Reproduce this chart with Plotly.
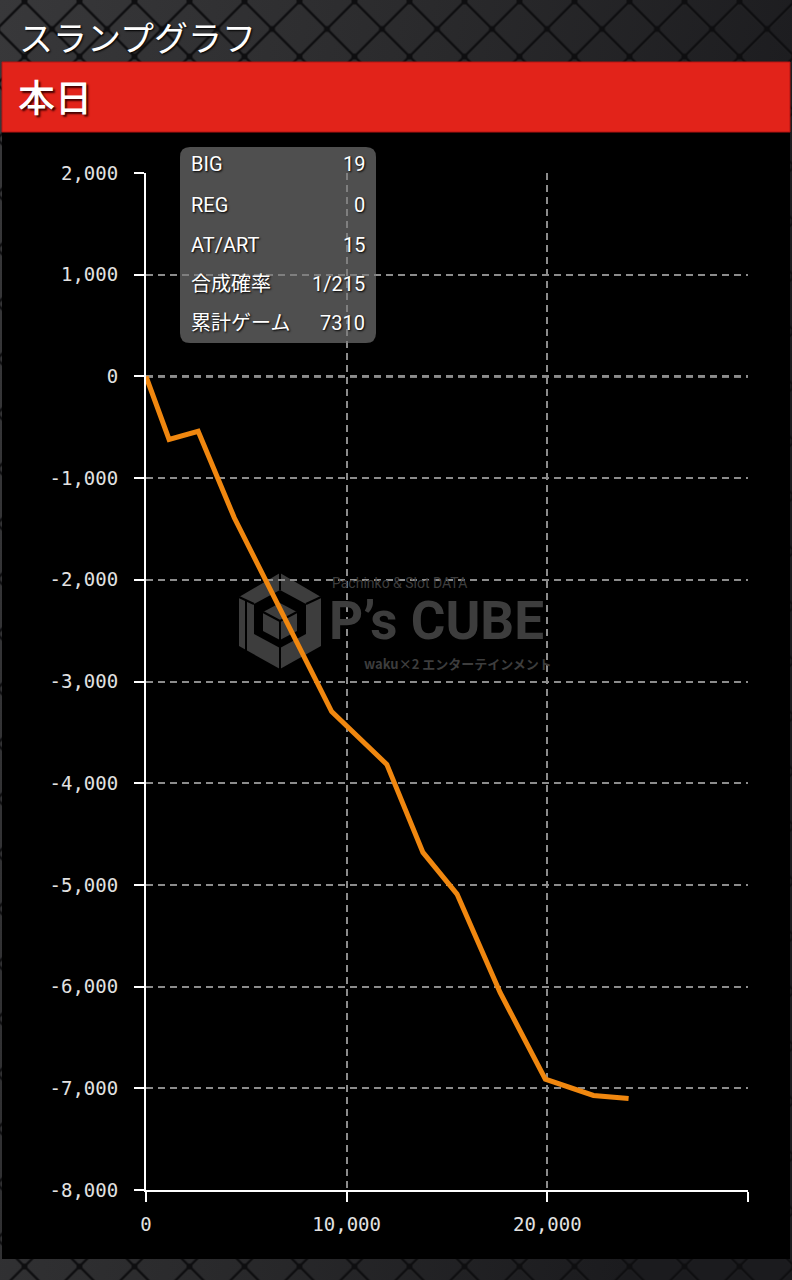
import base64
import plotly.graph_objects as go

# ---------------- data ----------------
games = [0, 1150, 2600, 4400, 9250, 12000, 13800, 15500, 17650, 19900, 22300, 24050]
diff = [0, -620, -540, -1390, -3295, -3815, -4680, -5090, -6060, -6910, -7070, -7100]

x_tickvals = [0, 10000, 20000, 30000]
x_ticktext = ["0", "10,000", "20,000", ""]
y_tickvals = [2000, 1000, 0, -1000, -2000, -3000, -4000, -5000, -6000, -7000, -8000]
y_ticktext = ["2,000", "1,000", "0", "-1,000", "-2,000", "-3,000", "-4,000",
              "-5,000", "-6,000", "-7,000", "-8,000"]

info_labels = ["BIG", "REG", "AT/ART", "合成確率", "累計ゲーム"]
info_values = ["19", "0", "15", "1/215", "7310"]

title_text = "スランプグラフ"
tab_text = "本日"

# ---------------- layout helpers (pixel -> paper) ----------------
W, H = 792, 1280
L, R, T, B = 146, 748, 173, 1190
PW, PH = R - L, B - T


def px(x):
    return (x - L) / PW


def py(y):
    return (B - y) / PH


def poly(points):
    return "M" + "L".join(f"{px(a):.5f},{py(b):.5f}" for a, b in points) + "Z"


def rounded_rect(x0, y0, x1, y1, r):
    return (f"M{px(x0 + r)},{py(y0)} L{px(x1 - r)},{py(y0)} "
            f"Q{px(x1)},{py(y0)} {px(x1)},{py(y0 + r)} "
            f"L{px(x1)},{py(y1 - r)} Q{px(x1)},{py(y1)} {px(x1 - r)},{py(y1)} "
            f"L{px(x0 + r)},{py(y1)} Q{px(x0)},{py(y1)} {px(x0)},{py(y1 - r)} "
            f"L{px(x0)},{py(y0 + r)} Q{px(x0)},{py(y0)} {px(x0 + r)},{py(y0)} Z")


# ---------------- background texture (svg) ----------------
svg = f'''<svg xmlns="http://www.w3.org/2000/svg" width="{W}" height="{H}">
<defs>
<linearGradient id="g" x1="0" y1="0" x2="1" y2="0.3">
<stop offset="0" stop-color="#38383a"/><stop offset="0.5" stop-color="#2a2a2c"/><stop offset="1" stop-color="#1b1b1e"/>
</linearGradient>
<pattern id="p" width="55" height="55" patternUnits="userSpaceOnUse" x="24.5" y="1.5">
<path d="M0 1.5L55 56.5M55 1.5L0 56.5" stroke="#5a5a5c" stroke-width="1" opacity="0.35"/>
<path d="M0 0L55 55M55 0L0 55" stroke="#0e0e10" stroke-width="2.5"/>
<circle cx="27.5" cy="27.5" r="3" fill="#0e0e10"/>
<circle cx="0" cy="0" r="3" fill="#0e0e10"/><circle cx="55" cy="0" r="3" fill="#0e0e10"/>
<circle cx="0" cy="55" r="3" fill="#0e0e10"/><circle cx="55" cy="55" r="3" fill="#0e0e10"/>
</pattern></defs>
<rect width="{W}" height="{H}" fill="url(#g)"/>
<rect width="{W}" height="{H}" fill="url(#p)"/>
</svg>'''
bg_src = "data:image/svg+xml;base64," + base64.b64encode(svg.encode()).decode()

# ---------------- figure ----------------
fig = go.Figure()
fig.add_trace(go.Scatter(
    x=games, y=diff, mode="lines",
    line=dict(color="#F0870F", width=5),
    hoverinfo="skip", showlegend=False,
))

tick_font = dict(family="DejaVu Sans Mono, monospace", size=19, color="#e2e2e2")
grid_kw = dict(showgrid=True, gridcolor="#8c8c8c", gridwidth=1.5, griddash="7px,5px")

fig.update_xaxes(
    range=[0, 30000], tickmode="array", tickvals=x_tickvals, ticktext=x_ticktext,
    showline=True, linecolor="#ffffff", linewidth=2, mirror=False,
    ticks="outside", ticklen=10, tickwidth=2, tickcolor="#ffffff",
    tickfont=tick_font, zeroline=False, fixedrange=True, ticklabelstandoff=6, **grid_kw,
)
fig.update_yaxes(
    range=[-8000, 2000], tickmode="array", tickvals=y_tickvals, ticktext=y_ticktext,
    showline=True, linecolor="#ffffff", linewidth=2, mirror=False,
    ticks="outside", ticklen=10, tickwidth=2, tickcolor="#ffffff",
    tickfont=tick_font, zeroline=False, fixedrange=True, ticklabelstandoff=12, **grid_kw,
)

shapes = []
# black panel
shapes.append(dict(type="rect", xref="paper", yref="paper", layer="below",
                   x0=px(2), x1=px(790), y0=py(132), y1=py(1259),
                   fillcolor="#000000", line=dict(width=0)))
# red tab bar
shapes.append(dict(type="rect", xref="paper", yref="paper", layer="below",
                   x0=px(2), x1=px(790), y0=py(62), y1=py(132),
                   fillcolor="#E2231A", line=dict(color="#b51512", width=1)))
# zero reference line
shapes.append(dict(type="line", xref="paper", yref="y", layer="below",
                   x0=0, x1=1, y0=0, y1=0,
                   line=dict(color="#ffffff", width=2, dash="7px,5px")))

# watermark logo (hexagonal cube)
wm = "#3d3d3d"
shapes.append(dict(type="path", xref="paper", yref="paper", layer="below",
                   path=poly([(280, 573), (321, 597), (321, 646), (280, 669), (239, 646), (239, 597)]),
                   fillcolor=wm, line=dict(width=0)))
shapes.append(dict(type="path", xref="paper", yref="paper", layer="below",
                   path=poly([(280, 590), (306, 604), (306, 634), (280, 648), (254, 634), (254, 604)]),
                   fillcolor="#000000", line=dict(width=0)))
shapes.append(dict(type="path", xref="paper", yref="paper", layer="below",
                   path=poly([(280, 603), (297, 612), (297, 631), (280, 640), (263, 631), (263, 612)]),
                   fillcolor=wm, line=dict(width=0)))
for seg in [[(280, 573), (280, 590)], [(239, 597), (254, 604)], [(321, 597), (306, 604)],
            [(280, 621), (280, 669)], [(263, 612), (280, 621)], [(297, 612), (280, 621)],
            [(246, 600), (246, 668)]]:
    shapes.append(dict(type="line", xref="paper", yref="paper", layer="below",
                       x0=px(seg[0][0]), y0=py(seg[0][1]), x1=px(seg[1][0]), y1=py(seg[1][1]),
                       line=dict(color="#000000", width=2)))

# info box
shapes.append(dict(type="path", xref="paper", yref="paper", layer="above",
                   path=rounded_rect(180, 147, 376, 343, 10),
                   fillcolor="rgba(120,120,120,0.66)", line=dict(width=0)))

annotations = []
shadow = "1px 1px 2px #000000"
annotations.append(dict(text=title_text, xref="paper", yref="paper", x=px(17), y=py(36),
                        xanchor="left", yanchor="middle", showarrow=False,
                        font=dict(family="Noto Sans CJK JP", size=34, color="#ffffff", shadow=shadow)))
annotations.append(dict(text=tab_text, xref="paper", yref="paper", x=px(16), y=py(96),
                        xanchor="left", yanchor="middle", showarrow=False,
                        font=dict(family="Noto Sans CJK JP", size=37, color="#ffffff", weight=500,
                                  shadow="2px 2px 2px #400000")))

row_y = [164, 205, 245, 284, 323]
info_font = dict(family="Roboto, Noto Sans CJK JP", size=20, color="#ffffff", shadow=shadow)
for lab, val, yy in zip(info_labels, info_values, row_y):
    annotations.append(dict(text=lab, xref="paper", yref="paper", x=px(189), y=py(yy),
                            xanchor="left", yanchor="middle", showarrow=False, font=info_font))
    annotations.append(dict(text=val, xref="paper", yref="paper", x=px(367), y=py(yy),
                            xanchor="right", yanchor="middle", showarrow=False, font=info_font))

# watermark text
annotations.append(dict(text="Pachinko &amp; Slot DATA", xref="paper", yref="paper", x=px(330), y=py(583),
                        xanchor="left", yanchor="middle", showarrow=False,
                        font=dict(family="Roboto", size=14, color=wm)))
annotations.append(dict(text="P’s CUBE", xref="paper", yref="paper", x=px(327), y=py(621),
                        xanchor="left", yanchor="middle", showarrow=False,
                        font=dict(family="Roboto", size=53, color=wm, weight="bold")))
annotations.append(dict(text="waku×2 エンターテインメント", xref="paper", yref="paper", x=px(554), y=py(663),
                        xanchor="right", yanchor="middle", showarrow=False,
                        font=dict(family="Noto Sans CJK JP", size=13, color=wm, weight="bold")))

fig.update_layout(
    width=W, height=H, autosize=False,
    margin=dict(l=L, r=W - R, t=T, b=H - B, pad=0),
    paper_bgcolor="#2a2a2c", plot_bgcolor="rgba(0,0,0,0)",
    shapes=shapes, annotations=annotations,
    images=[dict(source=bg_src, xref="paper", yref="paper", x=px(0), y=py(0),
                 sizex=W / PW, sizey=H / PH, xanchor="left", yanchor="top",
                 sizing="stretch", layer="below")],
    showlegend=False,
)

fig.write_html("out.html", config={"displayModeBar": False},
               post_script="document.body.style.margin='0px';")
